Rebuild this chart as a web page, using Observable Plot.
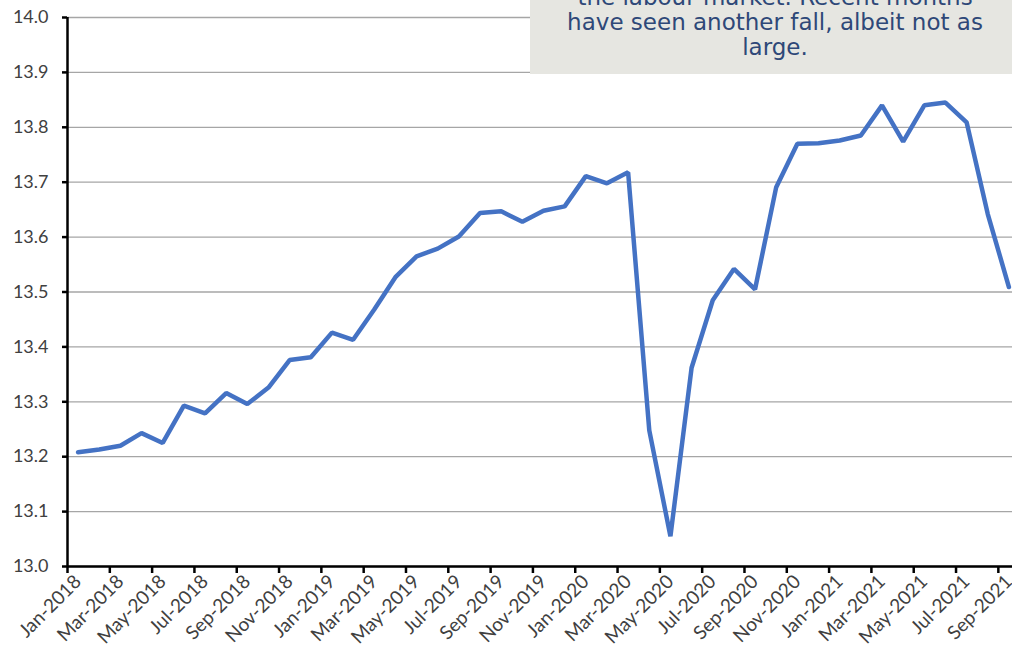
<!DOCTYPE html>
<html>
<head>
<meta charset="utf-8">
<script src="https://cdn.jsdelivr.net/npm/d3@7"></script>
<script src="https://cdn.jsdelivr.net/npm/@observablehq/plot@0.6"></script>
<style>
html, body { margin: 0; padding: 0; background: #fff; overflow: hidden; width: 1012px; height: 666px; }
#wrap { position: relative; width: 1012px; height: 666px; overflow: hidden; }
#note {
  position: absolute; left: 530px; top: -15px; width: 490px; height: 89px;
  background: #e6e6e1; color: #2e4878;
  font-family: "DejaVu Sans", sans-serif; font-size: 23px; line-height: 25px;
  text-align: center; box-sizing: border-box; padding-top: 0px;
}
</style>
</head>
<body>
<div id="wrap">
  <div id="chart"></div>
  <div id="note"></div>
</div>
<script>
const months = [
  "Jan-2018","Feb-2018","Mar-2018","Apr-2018","May-2018","Jun-2018","Jul-2018","Aug-2018","Sep-2018","Oct-2018","Nov-2018","Dec-2018",
  "Jan-2019","Feb-2019","Mar-2019","Apr-2019","May-2019","Jun-2019","Jul-2019","Aug-2019","Sep-2019","Oct-2019","Nov-2019","Dec-2019",
  "Jan-2020","Feb-2020","Mar-2020","Apr-2020","May-2020","Jun-2020","Jul-2020","Aug-2020","Sep-2020","Oct-2020","Nov-2020","Dec-2020",
  "Jan-2021","Feb-2021","Mar-2021","Apr-2021","May-2021","Jun-2021","Jul-2021","Aug-2021","Sep-2021"
];
const values = [
  13.208, 13.213, 13.220, 13.243, 13.225, 13.293, 13.279, 13.316, 13.296, 13.326, 13.376, 13.381,
  13.426, 13.413, 13.468, 13.527, 13.565, 13.579, 13.601, 13.644, 13.647, 13.628, 13.648, 13.656,
  13.711, 13.698, 13.718, 13.248, 13.055, 13.362, 13.485, 13.542, 13.505, 13.691, 13.770, 13.771,
  13.776, 13.785, 13.840, 13.774, 13.840, 13.845, 13.809, 13.642, 13.509
];
const yTicks = [13.0, 13.1, 13.2, 13.3, 13.4, 13.5, 13.6, 13.7, 13.8, 13.9, 14.0];
const noteLines = [
  "the labour market. Recent months",
  "have seen another fall, albeit not as",
  "large."
];

const data = months.map((m, i) => ({i, m, v: values[i]}));
const labelIdx = months.map((m, i) => i).filter(i => i % 2 === 0);
const boundaryIdx = labelIdx.map(i => i - 0.5);

const chart = Plot.plot({
  width: 1012,
  height: 666,
  marginLeft: 67,
  marginTop: 17,
  marginBottom: 100,
  marginRight: 0,
  x: {type: "linear", domain: [-0.5, months.length - 0.5], range: [67, 1019]},
  y: {domain: [13, 14], range: [566, 17]},
  style: {fontFamily: "Lato, sans-serif", fontSize: "18px", color: "#404040", background: "transparent", overflow: "hidden"},
  marks: [
    Plot.gridY(yTicks, {stroke: "#a6a6a6", strokeOpacity: 1, strokeWidth: 1.3}),
    Plot.axisY(yTicks, {label: null, tickFormat: d => d.toFixed(1), tickSize: 5, tickPadding: 14, stroke: "#000", strokeWidth: 2.5, fill: "#404040"}),
    Plot.axisX(boundaryIdx, {label: null, tickFormat: () => "", tickSize: 7, stroke: "#000", strokeWidth: 2.5}),
    Plot.axisX(labelIdx, {label: null, tickFormat: i => months[i], tickSize: 0, tickRotate: -45, tickPadding: 12, fill: "#404040", fontSize: 19}),
    Plot.ruleX([-0.5], {stroke: "#000", strokeWidth: 2.5}),
    Plot.ruleY([13], {stroke: "#000", strokeWidth: 2.5}),
    Plot.line(data, {x: "i", y: "v", stroke: "#4472c4", strokeWidth: 4.5, strokeLinejoin: "miter"})
  ]
});
document.getElementById("chart").appendChild(chart);
const note = document.getElementById("note");
noteLines.forEach(t => { const d = document.createElement("div"); d.textContent = t; note.appendChild(d); });
</script>
</body>
</html>
